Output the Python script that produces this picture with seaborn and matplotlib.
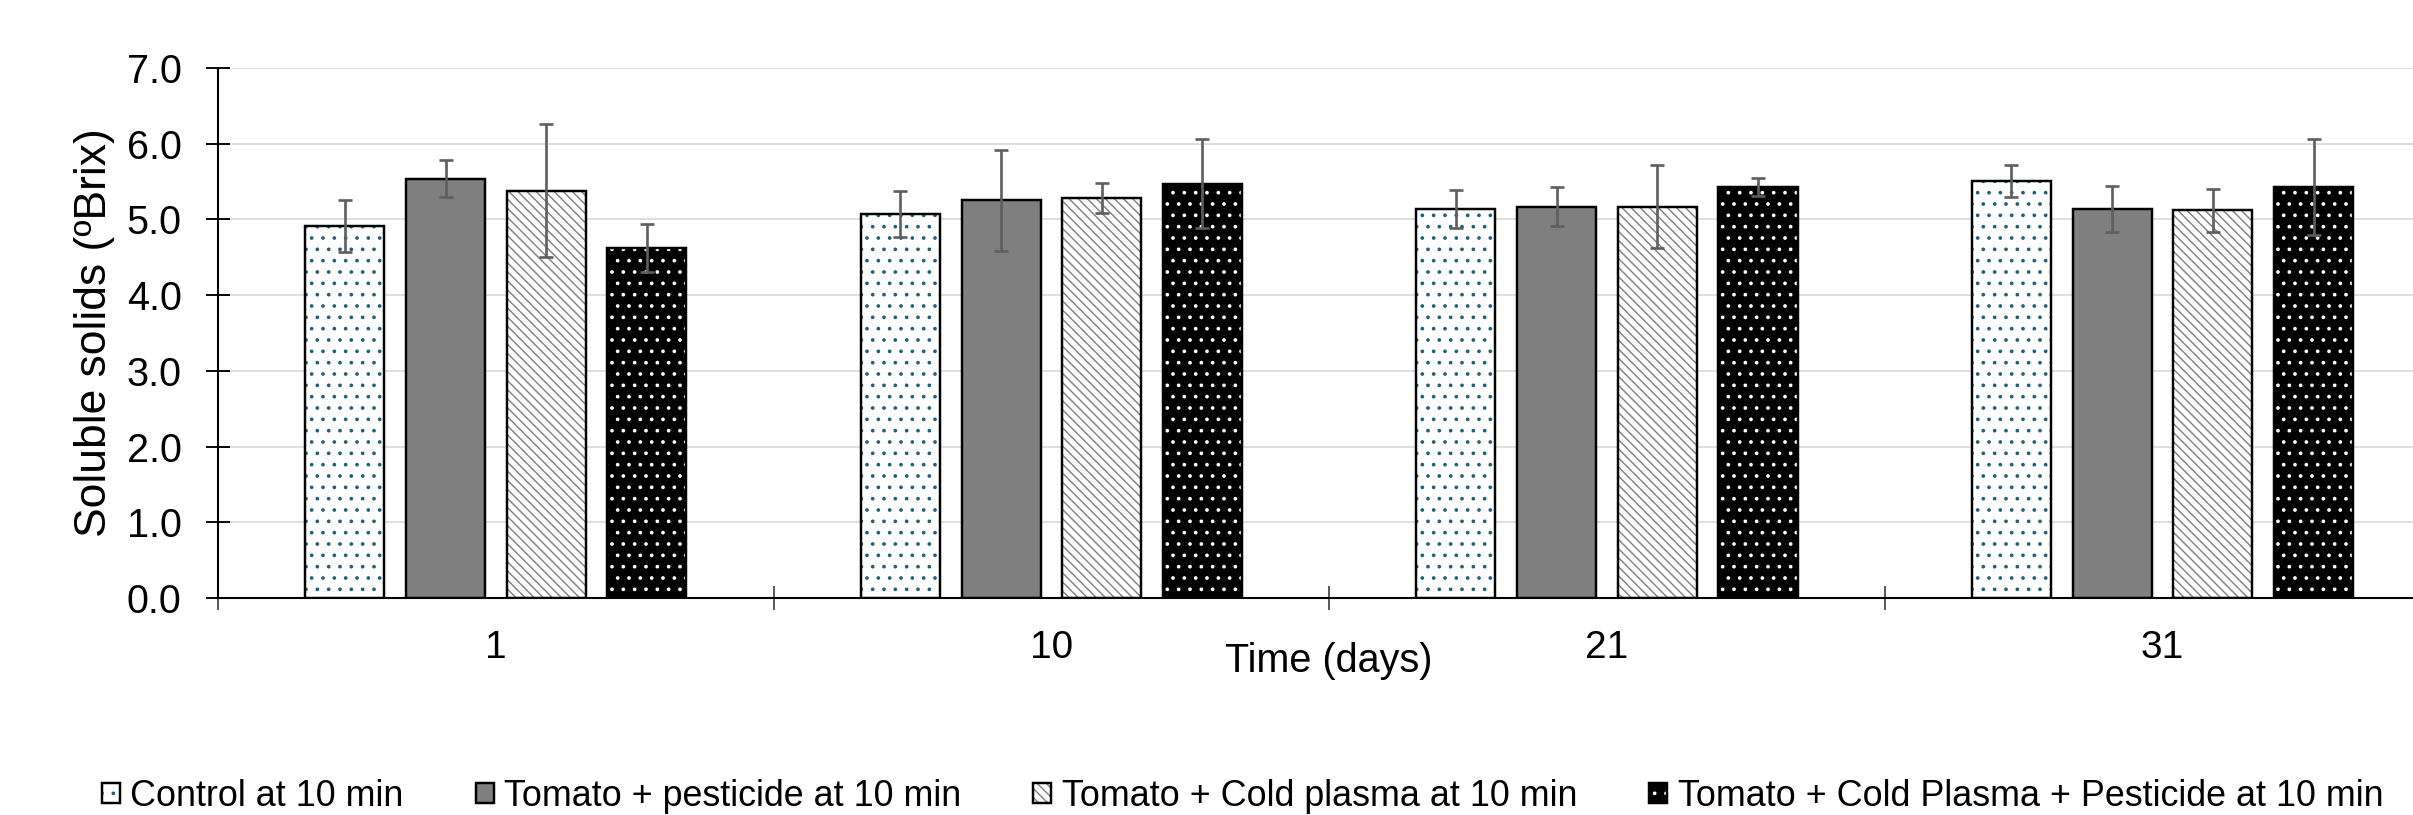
import numpy as np
import pandas as pd
import matplotlib
matplotlib.use("Agg")
import matplotlib.pyplot as plt
import matplotlib.colors as mcolors
from matplotlib import font_manager
import seaborn as sns

# ---------------- data ----------------
days = ["1", "10", "21", "31"]
treatments = [
    "Control at 10 min",
    "Tomato + pesticide at 10 min",
    "Tomato + Cold plasma at 10 min",
    "Tomato + Cold Plasma + Pesticide at 10 min",
]
control_mean = [4.91, 5.07, 5.14, 5.51]
control_sd = [0.34, 0.30, 0.25, 0.21]
pesticide_mean = [5.54, 5.25, 5.17, 5.14]
pesticide_sd = [0.25, 0.67, 0.26, 0.30]
plasma_mean = [5.38, 5.28, 5.17, 5.12]
plasma_sd = [0.88, 0.20, 0.55, 0.28]
plasma_pest_mean = [4.62, 5.47, 5.43, 5.43]
plasma_pest_sd = [0.32, 0.59, 0.12, 0.63]
y_ticks = [0.0, 1.0, 2.0, 3.0, 4.0, 5.0, 6.0, 7.0]

means = [control_mean, pesticide_mean, plasma_mean, plasma_pest_mean]
sds = [control_sd, pesticide_sd, plasma_sd, plasma_pest_sd]

df = pd.DataFrame({
    "day": [d for _ in treatments for d in days],
    "treatment": [t for t in treatments for _ in days],
    "value": [v for m in means for v in m],
})

# ---------------- style ----------------
face_colors = ["#FFFFFF", "#7F7F7F", "#FFFFFF", "#000000"]
hatch_colors = ["#1F5F7C", "#7F7F7F", "#7F7F7F", "#FFFFFF"]
hatches = ["..", "", "\\\\\\\\\\", ".."]


def pick(fams):
    for f in fams:
        try:
            font_manager.findfont(font_manager.FontProperties(family=f),
                                  fallback_to_default=False)
            return f
        except Exception:
            pass
    return "DejaVu Sans"


main_font = pick(["Liberation Sans", "Arial", "DejaVu Sans"])

DPI = 136
plt.rcParams["font.family"] = [main_font, "DejaVu Sans"]
plt.rcParams["hatch.linewidth"] = 0.75

fig = plt.figure(figsize=(2413 / DPI, 815 / DPI), dpi=DPI)
ax = fig.add_axes([0.0904, 0.2663, 0.9209, 0.6503])

sns.barplot(
    data=df, x="day", y="value", hue="treatment",
    order=days, hue_order=treatments, palette=face_colors,
    saturation=1, width=0.725, gap=0.215, errorbar=None,
    edgecolor="black", linewidth=1.3, legend=False, ax=ax, zorder=2,
)

bar_containers = list(ax.containers)

for cont, hc, h in zip(bar_containers, hatch_colors, hatches):
    for p in cont.patches:
        p.set_hatch(h)
        if hasattr(p, "set_hatchcolor"):
            p.set_hatchcolor(hc)
        else:
            p._hatch_color = mcolors.to_rgba(hc)

# error bars positioned from the drawn bars
for cont, sd in zip(bar_containers, sds):
    xs, ys, es = [], [], []
    for p in cont.patches:
        cx = p.get_x() + p.get_width() / 2
        xs.append(cx)
        ys.append(p.get_height())
        es.append(sd[int(round(cx))])
    ax.errorbar(xs, ys, yerr=es, fmt="none", ecolor="#5E5E5E",
                elinewidth=1.4, capsize=3.5, capthick=1.4, zorder=4)

# ---------------- axes ----------------
ax.set_ylim(0, 7)
ax.set_xlim(-0.5, len(days) - 0.5)
ax.set_yticks(y_ticks)
ax.set_yticklabels([f"{t:.1f}" for t in y_ticks])
ax.yaxis.grid(True, color="#D9D9D9", linewidth=0.9, zorder=0)
ax.set_axisbelow(True)

ax.set_xticks(np.arange(len(days) + 1) - 0.5)
ax.set_xticklabels([])
ax.set_xticks(np.arange(len(days)), minor=True)
ax.set_xticklabels(days, minor=True)
ax.tick_params(axis="x", which="major", direction="inout", length=13,
               width=0.9, color="#404040")
ax.tick_params(axis="x", which="minor", length=0, pad=17, labelsize=20.5)
ax.tick_params(axis="y", direction="inout", length=12.7, width=1.0,
               color="black", pad=13, labelsize=21)

for s in ["top", "right"]:
    ax.spines[s].set_visible(False)
for s in ["left", "bottom"]:
    ax.spines[s].set_linewidth(1.1)
    ax.spines[s].set_color("black")

ax.set_ylabel("Soluble solids (ºBrix)", fontsize=23.5, labelpad=6)
ax.set_xlabel("Time (days)", fontsize=21)
ax.xaxis.set_label_coords(0.5, -0.119)
ax.xaxis.label.set_va("center")

handles = [c.patches[0] for c in bar_containers]
fig.legend(handles, treatments, loc="center", bbox_to_anchor=(0.515, 0.0233),
           ncol=4, frameon=False, fontsize=19, handlelength=0.5,
           handleheight=0.5, handletextpad=0.3, columnspacing=2.0)

fig.savefig("out.png", dpi=DPI)
